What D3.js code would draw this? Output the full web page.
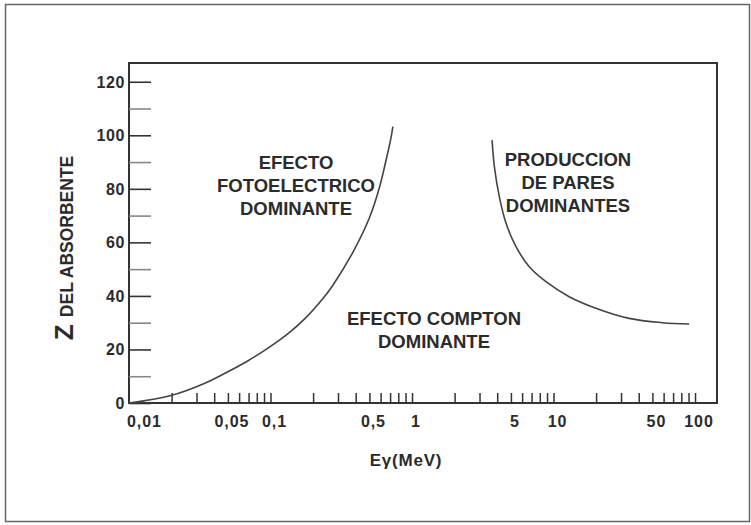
<!DOCTYPE html>
<html>
<head>
<meta charset="utf-8">
<script src="https://cdn.jsdelivr.net/npm/d3@7"></script>
<style>
  body { margin: 0; background: #fff; }
  text { font-family: "Liberation Sans", Arial, sans-serif; font-weight: bold; fill: #2b2b2b; }
</style>
</head>
<body>
<div id="chart"></div>
<script>
// curva efecto fotoelectrico / compton
var fotoE = [0.01, 0.0195, 0.0344, 0.0476, 0.0694, 0.096, 0.133, 0.175, 0.241, 0.276, 0.382, 0.501, 0.590, 0.664, 0.713, 0.732]
var fotoZ = [0, 2.7, 7.4, 11.1, 15.8, 20.5, 25.9, 31.5, 39.8, 44.0, 56.3, 69.3, 80.7, 92, 99.5, 103.2]
// curva produccion de pares / compton
var paresE = [3.68, 3.82, 4.14, 4.62, 5.43, 6.74, 8.85, 12.9, 19.9, 34.2, 58.8, 90.8]
var paresZ = [98.2, 88.3, 77.1, 67.1, 58.4, 50.9, 45.3, 39.7, 35.4, 31.6, 30.0, 29.5]

var xTicks = [0.02, 0.03, 0.04, 0.05, 0.06, 0.07, 0.08, 0.09, 0.1,
    0.2, 0.3, 0.4, 0.5, 0.6, 0.7, 0.8, 0.9, 1,
    2, 3, 4, 5, 6, 7, 8, 9, 10,
    20, 30, 40, 50, 60, 70, 80, 90, 100]
var xLabels = [0.01, 0.05, 0.1, 0.5, 1, 5, 10, 50, 100]
var yTicks = [0, 10, 20, 30, 40, 50, 60, 70, 80, 90, 100, 110, 120]
var yLabels = [0, 20, 40, 60, 80, 100, 120]

var width = 751, height = 525

var svg = d3.select("#chart").append("svg")
    .attr("width", width)
    .attr("height", height)

// marco exterior
svg.append("rect")
    .attr("x", 5.5).attr("y", 4.5)
    .attr("width", 744).attr("height", 517)
    .attr("fill", "none")
    .attr("stroke", "#666")
    .attr("stroke-width", 1.5)

var x = d3.scaleLog().domain([0.01, 143]).range([129, 717])
var y = d3.scaleLinear().domain([0, 127]).range([403, 63])

// caja del grafico
svg.append("rect")
    .attr("x", 129).attr("y", 63)
    .attr("width", 717 - 129).attr("height", 403 - 63)
    .attr("fill", "none")
    .attr("stroke", "#333")
    .attr("stroke-width", 2)

// eje X (ticks hacia dentro)
var xAxisGroup = svg.append("g")
    .attr("transform", "translate(0,403)")
    .call(d3.axisBottom(x).tickValues(xTicks).tickSize(-10).tickFormat(""))
xAxisGroup.select(".domain").remove()
xAxisGroup.selectAll(".tick line").attr("stroke", "#333").attr("stroke-width", 1.5)

svg.append("g").selectAll("text")
    .data(xLabels)
    .enter().append("text")
    .attr("x", function (d) { return d == 0.01 ? x(d) - 2 : x(d) + 4 })
    .attr("y", 427)
    .attr("text-anchor", function (d) { return d == 0.01 ? "start" : "middle" })
    .style("font-size", "16px")
    .style("letter-spacing", "0.9px")
    .text(function (d) { return String(d).replace(".", ",") })

// eje Y (ticks hacia dentro)
var yAxisGroup = svg.append("g")
    .attr("transform", "translate(129,0)")
    .call(d3.axisLeft(y).tickValues(yTicks).tickSize(-22).tickFormat(""))
yAxisGroup.select(".domain").remove()
yAxisGroup.selectAll(".tick line")
    .attr("stroke", function (d) { return d % 20 == 0 ? "#333" : "#888" })
    .attr("stroke-width", 1.6)

svg.append("g").selectAll("text")
    .data(yLabels)
    .enter().append("text")
    .attr("x", 125)
    .attr("y", function (d) { return y(d) + 6 })
    .attr("text-anchor", "end")
    .style("font-size", "16px")
    .style("letter-spacing", "0.6px")
    .text(function (d) { return d })

// curvas
var line = d3.line()
    .x(function (d) { return x(d[0]) })
    .y(function (d) { return y(d[1]) })
    .curve(d3.curveCatmullRom)

svg.append("path")
    .datum(d3.zip(fotoE, fotoZ))
    .attr("d", line)
    .attr("fill", "none")
    .attr("stroke", "#444")
    .attr("stroke-width", 1.6)

svg.append("path")
    .datum(d3.zip(paresE, paresZ))
    .attr("d", line)
    .attr("fill", "none")
    .attr("stroke", "#444")
    .attr("stroke-width", 1.6)

// textos de las regiones
function bloque(lines, cx, cy, size) {
    svg.append("g").selectAll("text")
        .data(lines)
        .enter().append("text")
        .attr("x", cx)
        .attr("y", function (d, i) { return cy + i * 23 })
        .attr("text-anchor", "middle")
        .style("font-size", size + "px")
        .text(function (d) { return d })
}
bloque(["EFECTO", "FOTOELECTRICO", "DOMINANTE"], 296, 169, 18.5)
bloque(["PRODUCCION", "DE PARES", "DOMINANTES"], 568, 166, 18.5)
bloque(["EFECTO COMPTON", "DOMINANTE"], 434, 325, 18.5)

// titulo eje X
svg.append("text")
    .attr("x", 406)
    .attr("y", 466)
    .attr("text-anchor", "middle")
    .style("font-size", "17px")
    .style("letter-spacing", "0.8px")
    .text("Eγ(MeV)")

// titulo eje Y
var yTitle = svg.append("text")
    .attr("transform", "translate(73,248) rotate(-90)")
    .attr("text-anchor", "middle")
yTitle.append("tspan").style("font-size", "26px").text("Z ")
yTitle.append("tspan").style("font-size", "17.5px").text("DEL ABSORBENTE")
</script>
</body>
</html>
